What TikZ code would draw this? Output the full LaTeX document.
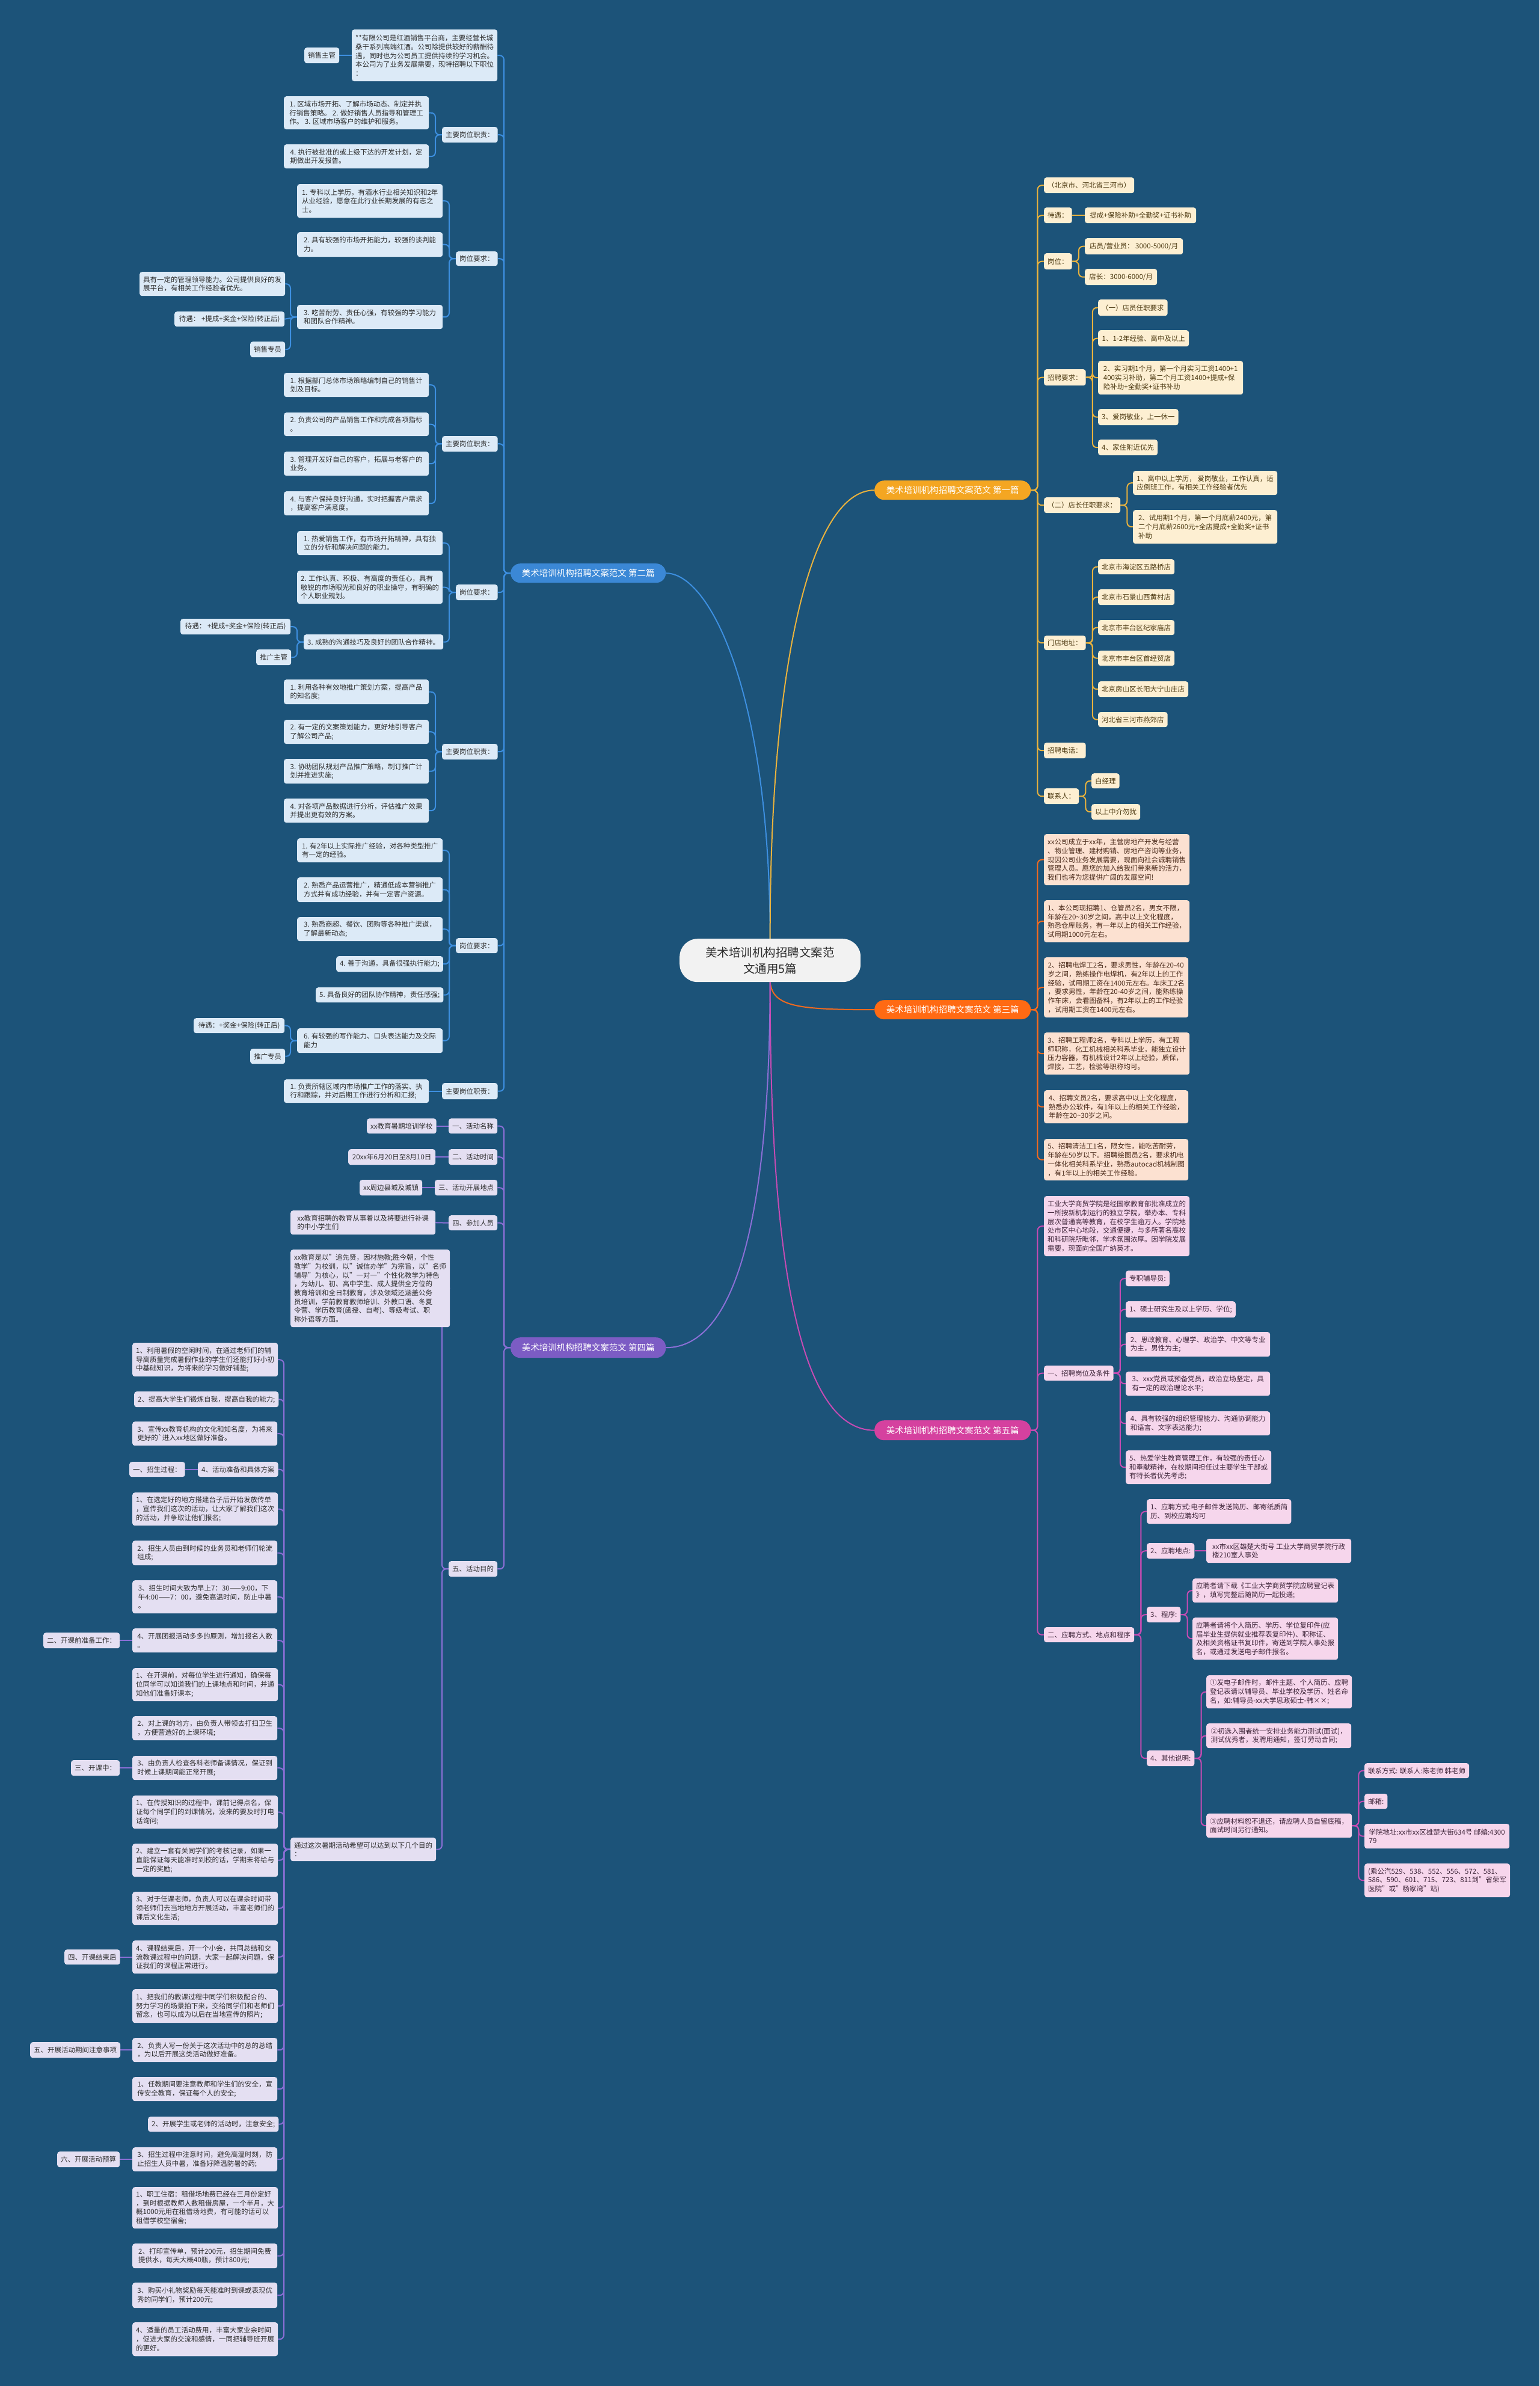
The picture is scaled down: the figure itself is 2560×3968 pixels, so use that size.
\documentclass[tikz,border=0pt]{standalone}
\usepackage{fontspec}
\setmainfont{Noto Sans CJK SC}
\pgfdeclarelayer{back}\pgfdeclarelayer{lines}
\pgfsetlayers{back,lines,main}
\definecolor{bgc}{HTML}{1C5379}
\definecolor{txt}{HTML}{2E2E2E}
\definecolor{bFill}{HTML}{DCEAF7}\definecolor{bLine}{HTML}{3D8FE0}\definecolor{bMain}{HTML}{3B88D6}
\definecolor{pFill}{HTML}{E4DFF2}\definecolor{pLine}{HTML}{8B6FD6}\definecolor{pMain}{HTML}{7C5CC4}
\definecolor{gFill}{HTML}{FDEFD2}\definecolor{gLine}{HTML}{E9B23D}\definecolor{gMain}{HTML}{F4A622}\definecolor{gTxt}{HTML}{4D3A12}
\definecolor{oFill}{HTML}{FCE1D1}\definecolor{oLine}{HTML}{F26A1F}\definecolor{oMain}{HTML}{FF6A13}\definecolor{oTxt}{HTML}{4A2A1A}
\definecolor{mFill}{HTML}{F6D6EC}\definecolor{mLine}{HTML}{C64BB3}\definecolor{mMain}{HTML}{D5419F}\definecolor{mTxt}{HTML}{3D2438}
\definecolor{ctrFill}{HTML}{F2F2F2}
\tikzset{
  leaf/.style={rounded corners=4pt, inner xsep=6pt, inner ysep=2pt, align=left, text=txt,
    font=\fontsize{11.5}{14.7}\selectfont},
  bL/.style={leaf, fill=bFill},
  pL/.style={leaf, fill=pFill},
  gL/.style={leaf, fill=gFill, text=gTxt},
  oL/.style={leaf, fill=oFill, text=oTxt},
  mL/.style={leaf, fill=mFill, text=mTxt},
  mainnode/.style={rounded corners=16pt, inner sep=0pt, align=center, text=white,
    font=\fontsize{14.5}{17}\selectfont},
  conn/.style={line width=2pt, rounded corners=7pt},
  lnB/.style={conn, draw=bLine}, lnP/.style={conn, draw=pLine}, lnG/.style={conn, draw=gLine},
  lnO/.style={conn, draw=oLine}, lnM/.style={conn, draw=mLine},
}
\newcommand\LB[7]{%
  \pgfmathsetmacro\myw{#5-#3}%
  \pgfmathsetmacro\myh{#6-#4}%
  \node[#2, anchor=north west, minimum width=\myw pt, minimum height=\myh pt] (#1) at (#3,#4) {#7};}
\newcommand\cL[3]{\draw[#1] (#2.west) -- ++(-11,0) |- (#3.east);}
\newcommand\cR[3]{\draw[#1] (#2.east) -- ++(11,0) |- (#3.west);}
\newcommand\sL[3]{\draw[#1] (#2.west) -- (#3.east);}
\newcommand\sR[3]{\draw[#1] (#2.east) -- (#3.west);}
\begin{document}
\begin{tikzpicture}[x=1pt,y=-1pt]
\begin{pgfonlayer}{back}
\fill[bgc] (0,0) rectangle (2560,3968);
\end{pgfonlayer}
\useasboundingbox (0,0) rectangle (2560,3968);
% ---------- center ----------
\node[rounded corners=30pt, fill=ctrFill, text=txt, align=center, minimum width=301pt, minimum height=72pt,
  font=\fontsize{19.5}{27}\selectfont, anchor=north west] (ctr) at (1130,1561) {美术培训机构招聘文案范\\文通用5篇};
% ---------- main nodes ----------
\LB{b0}{mainnode, fill=bMain}{849}{937}{1107}{969}{美术培训机构招聘文案范文 第二篇}
\LB{p0}{mainnode, fill=pMain}{849}{2224}{1107}{2258}{美术培训机构招聘文案范文 第四篇}
\LB{g0}{mainnode, fill=gMain}{1454}{799}{1714}{831}{美术培训机构招聘文案范文 第一篇}
\LB{o0}{mainnode, fill=oMain}{1454}{1663}{1714}{1695}{美术培训机构招聘文案范文 第三篇}
\LB{m0}{mainnode, fill=mMain}{1454}{2362}{1714}{2395}{美术培训机构招聘文案范文 第五篇}
% ---------- 第二篇 ----------
\LB{b1}{bL}{585}{49}{827}{135}{**有限公司是红酒销售平台商，主要经营长城\\桑干系列高端红酒。公司除提供较好的薪酬待\\遇，同时也为公司员工提供持续的学习机会。\\本公司为了业务发展需要，现特招聘以下职位\\：}
\LB{b1a}{bL}{506}{79}{563}{105}{销售主管}
\LB{b2}{bL}{735}{211}{826}{237}{主要岗位职责：}
\LB{b2a}{bL}{472}{160}{713}{215}{1. 区域市场开拓、了解市场动态、制定并执\\行销售策略。 2. 做好销售人员指导和管理工\\作。 3. 区域市场客户的维护和服务。}
\LB{b2b}{bL}{472}{240}{713}{280}{4. 执行被批准的或上级下达的开发计划，定\\期做出开发报告。}
\LB{b3}{bL}{758}{418}{826}{442}{岗位要求：}
\LB{b3a}{bL}{494}{306}{736}{362}{1. 专科以上学历，有酒水行业相关知识和2年\\从业经验，愿意在此行业长期发展的有志之\\士。}
\LB{b3b}{bL}{494}{386}{736}{427}{2. 具有较强的市场开拓能力，较强的谈判能\\力。}
\LB{b3c}{bL}{494}{507}{736}{547}{3. 吃苦耐劳、责任心强，有较强的学习能力\\和团队合作精神。}
\LB{b3c1}{bL}{232}{452}{473}{492}{具有一定的管理领导能力。公司提供良好的发\\展平台，有相关工作经验者优先。}
\LB{b3c2}{bL}{290}{518}{473}{543}{待遇： +提成+奖金+保险(转正后)}
\LB{b3c3}{bL}{416}{568}{473}{594}{销售专员}
\LB{b4}{bL}{735}{725}{826}{751}{主要岗位职责：}
\LB{b4a}{bL}{472}{620}{713}{660}{1. 根据部门总体市场策略编制自己的销售计\\划及目标。}
\LB{b4b}{bL}{472}{686}{713}{725}{2. 负责公司的产品销售工作和完成各项指标\\。}
\LB{b4c}{bL}{472}{751}{713}{791}{3. 管理开发好自己的客户，拓展与老客户的\\业务。}
\LB{b4d}{bL}{472}{817}{713}{857}{4. 与客户保持良好沟通，实时把握客户需求\\，提高客户满意度。}
\LB{b5}{bL}{758}{972}{826}{998}{岗位要求：}
\LB{b5a}{bL}{494}{883}{736}{923}{1. 热爱销售工作，有市场开拓精神，具有独\\立的分析和解决问题的能力。}
\LB{b5b}{bL}{494}{949}{736}{1004}{2. 工作认真、积极、有高度的责任心，具有\\敏锐的市场眼光和良好的职业操守，有明确的\\ 个人职业规划。}
\LB{b5c}{bL}{505}{1055}{736}{1080}{3. 成熟的沟通技巧及良好的团队合作精神。}
\LB{b5c1}{bL}{300}{1029}{483}{1055}{待遇： +提成+奖金+保险(转正后)}
\LB{b5c2}{bL}{426}{1080}{483}{1106}{推广主管}
\LB{b6}{bL}{735}{1237}{826}{1263}{主要岗位职责：}
\LB{b6a}{bL}{472}{1130}{713}{1171}{1. 利用各种有效地推广策划方案，提高产品\\的知名度;}
\LB{b6b}{bL}{472}{1197}{713}{1237}{2. 有一定的文案策划能力，更好地引导客户\\了解公司产品;}
\LB{b6c}{bL}{472}{1262}{713}{1303}{3. 协助团队规划产品推广策略，制订推广计\\划并推进实施;}
\LB{b6d}{bL}{472}{1328}{713}{1368}{4. 对各项产品数据进行分析，评估推广效果\\并提出更有效的方案。}
\LB{b7}{bL}{758}{1560}{826}{1585}{岗位要求：}
\LB{b7a}{bL}{494}{1394}{736}{1434}{1. 有2年以上实际推广经验，对各种类型推广\\有一定的经验。}
\LB{b7b}{bL}{494}{1459}{736}{1500}{2. 熟悉产品运营推广，精通低成本营销推广\\方式并有成功经验，并有一定客户资源。}
\LB{b7c}{bL}{494}{1525}{736}{1565}{3. 熟悉商超、餐饮、团购等各种推广渠道，\\了解最新动态;}
\LB{b7d}{bL}{559}{1590}{736}{1616}{4. 善于沟通，具备很强执行能力;}
\LB{b7e}{bL}{525}{1642}{736}{1667}{5. 具备良好的团队协作精神，责任感强;}
\LB{b7f}{bL}{494}{1710}{736}{1751}{6. 有较强的写作能力、口头表达能力及交际\\能力}
\LB{b7f1}{bL}{322}{1693}{473}{1718}{待遇：+奖金+保险(转正后)}
\LB{b7f2}{bL}{416}{1744}{473}{1769}{推广专员}
\LB{b8}{bL}{735}{1801}{826}{1828}{主要岗位职责：}
\LB{b8a}{bL}{472}{1795}{713}{1834}{1. 负责所辖区域内市场推广工作的落实、执\\行和跟踪，并对后期工作进行分析和汇报;}
% ---------- 第四篇 ----------
\LB{p1}{pL}{746}{1860}{826}{1885}{一、活动名称}
\LB{p1a}{pL}{610}{1860}{724}{1885}{xx教育暑期培训学校}
\LB{p2}{pL}{746}{1911}{826}{1937}{二、活动时间}
\LB{p2a}{pL}{579}{1911}{724}{1937}{20xx年6月20日至8月10日}
\LB{p3}{pL}{723}{1962}{826}{1988}{三、活动开展地点}
\LB{p3a}{pL}{598}{1962}{702}{1988}{xx周边县城及城镇}
\LB{p4}{pL}{746}{2021}{826}{2046}{四、参加人员}
\LB{p4a}{pL}{483}{2013}{724}{2053}{xx教育招聘的教育从事着以及将要进行补课\\的中小学生们}
\LB{p5}{pL}{746}{2596}{826}{2622}{五、活动目的}
\LB{p5a}{pL}{483}{2078}{724}{2207}{xx教育是以"追先贤，因材施教;胜今朝，个性\\教学"为校训，以"诚信办学"为宗旨，以"名师\\辅导"为核心，以"一对一"个性化教学为特色\\，为幼儿、初、高中学生、成人提供全方位的\\教育培训和全日制教育，涉及领域还涵盖公务\\员培训，学前教育教师培训、外教口语、冬夏\\令营、学历教育(函授、自考)、等级考试、职\\称外语等方面。}
\LB{p5b}{pL}{483}{3056}{724}{3095}{通过这次暑期活动希望可以达到以下几个目的\\：}
\LB{q1}{pL}{220}{2233}{461}{2289}{1、利用暑假的空闲时间，在通过老师们的辅\\导高质量完成暑假作业的学生们还能打好小初\\中基础知识，为将来的学习做好铺垫;}
\LB{q2}{pL}{223}{2314}{461}{2340}{2、提高大学生们锻炼自我，提高自我的能力;}
\LB{q3}{pL}{220}{2364}{461}{2404}{3、宣传xx教育机构的文化和知名度，为将来\\更好的\textasciigrave 进入xx地区做好准备。}
\LB{q4}{pL}{329}{2431}{461}{2456}{4、活动准备和具体方案}
\LB{q4a}{pL}{215}{2431}{307}{2456}{一、招生过程：}
\LB{q5}{pL}{220}{2482}{461}{2537}{1、在选定好的地方搭建台子后开始发放传单\\，宣传我们这次的活动，让大家了解我们这次\\的活动，并争取让他们报名;}
\LB{q6}{pL}{220}{2562}{461}{2603}{2、招生人员由到时候的业务员和老师们轮流\\组成;}
\LB{q7}{pL}{220}{2628}{461}{2683}{3、招生时间大致为早上7：30——9:00，下\\午4:00——7：00，避免高温时间，防止中暑\\。}
\LB{q8}{pL}{220}{2708}{461}{2748}{4、开展团报活动多多的原则，增加报名人数\\。}
\LB{q8a}{pL}{72}{2715}{198}{2741}{二、开课前准备工作：}
\LB{q9}{pL}{220}{2774}{461}{2829}{1、在开课前，对每位学生进行通知，确保每\\位同学可以知道我们的上课地点和时间，并通\\知他们准备好课本;}
\LB{q10}{pL}{220}{2854}{461}{2894}{2、对上课的地方，由负责人带领去打扫卫生\\，方便营造好的上课环境;}
\LB{q11}{pL}{220}{2920}{461}{2960}{3、由负责人检查各科老师备课情况，保证到\\时候上课期间能正常开展;}
\LB{q11a}{pL}{118}{2927}{198}{2953}{三、开课中：}
\LB{q12}{pL}{220}{2986}{461}{3041}{1、在传授知识的过程中，课前记得点名，保\\证每个同学们的到课情况，没来的要及时打电\\话询问;}
\LB{q13}{pL}{220}{3066}{461}{3121}{2、建立一套有关同学们的考核记录，如果一\\直能保证每天能准时到校的话，学期末将给与\\一定的奖励;}
\LB{q14}{pL}{220}{3146}{461}{3201}{3、对于任课老师，负责人可以在课余时间带\\领老师们去当地地方开展活动，丰富老师们的\\课后文化生活;}
\LB{q15}{pL}{220}{3227}{461}{3282}{4、课程结束后，开一个小会，共同总结和交\\流教课过程中的问题，大家一起解决问题，保\\证我们的课程正常进行。}
\LB{q15a}{pL}{107}{3242}{198}{3267}{四、开课结束后}
\LB{q16}{pL}{220}{3308}{461}{3364}{1、把我们的教课过程中同学们积极配合的、\\努力学习的场景拍下来，交给同学们和老师们\\留念，也可以成为以后在当地宣传的照片;}
\LB{q17}{pL}{220}{3389}{461}{3429}{2、负责人写一份关于这次活动中的总的总结\\，为以后开展这类活动做好准备。}
\LB{q17a}{pL}{50}{3396}{198}{3422}{五、开展活动期间注意事项}
\LB{q18}{pL}{220}{3454}{461}{3494}{1、任教期间要注意教师和学生们的安全，宣\\传安全教育，保证每个人的安全;}
\LB{q19}{pL}{246}{3520}{461}{3545}{2、开展学生或老师的活动时，注意安全;}
\LB{q20}{pL}{220}{3571}{461}{3611}{3、招生过程中注意时间，避免高温时刻，防\\止招生人员中暑，准备好降温防暑的药;}
\LB{q20a}{pL}{95}{3578}{198}{3604}{六、开展活动预算}
\LB{q21}{pL}{220}{3637}{461}{3706}{1、职工住宿：租借场地费已经在三月份定好\\，到时根据教师人数租借房屋，一个半月，大\\概1000元用在租借场地费，有可能的话可以\\租借学校空宿舍;}
\LB{q22}{pL}{220}{3731}{461}{3772}{2、打印宣传单，预计200元，招生期间免费\\提供水，每天大概40瓶，预计800元;}
\LB{q23}{pL}{220}{3796}{461}{3838}{3、购买小礼物奖励每天能准时到课或表现优\\秀的同学们，预计200元;}
\LB{q24}{pL}{220}{3862}{461}{3918}{4、适量的员工活动费用，丰富大家业余时间\\，促进大家的交流和感情，一同把辅导班开展\\的更好。}
% ---------- 第一篇 ----------
\LB{g1}{gL}{1736}{295}{1885}{321}{（北京市、河北省三河市）}
\LB{g2}{gL}{1736}{345}{1782}{371}{待遇：}
\LB{g2a}{gL}{1804}{345}{1989}{371}{提成+保险补助+全勤奖+证书补助}
\LB{g3}{gL}{1736}{421}{1782}{448}{岗位：}
\LB{g3a}{gL}{1804}{396}{1967}{423}{店员/营业员： 3000-5000/月}
\LB{g3b}{gL}{1804}{447}{1924}{474}{店长：3000-6000/月}
\LB{g4}{gL}{1736}{614}{1805}{641}{招聘要求：}
\LB{g4a}{gL}{1826}{498}{1941}{525}{（一）店员任职要求}
\LB{g4b}{gL}{1826}{549}{1977}{576}{1、1-2年经验、高中及以上}
\LB{g4c}{gL}{1826}{600}{2067}{656}{2、实习期1个月，第一个月实习工资1400+1\\400实习补助，第二个月工资1400+提成+保\\险补助+全勤奖+证书补助}
\LB{g4d}{gL}{1826}{680}{1959}{707}{3、爱岗敬业，上一休一}
\LB{g4e}{gL}{1826}{731}{1924}{757}{4、家住附近优先}
\LB{g5}{gL}{1736}{827}{1862}{853}{（二）店长任职要求：}
\LB{g5a}{gL}{1884}{783}{2124}{823}{1、高中以上学历， 爱岗敬业，工作认真，适\\应倒班工作，有相关工作经验者优先}
\LB{g5b}{gL}{1884}{848}{2124}{904}{2、试用期1个月，第一个月底薪2400元，第\\二个月底薪2600元+全店提成+全勤奖+证书\\补助}
\LB{g6}{gL}{1736}{1057}{1805}{1081}{门店地址：}
\LB{g6a}{gL}{1826}{930}{1952}{955}{北京市海淀区五路桥店}
\LB{g6b}{gL}{1826}{980}{1952}{1006}{北京市石景山西黄村店}
\LB{g6c}{gL}{1826}{1031}{1952}{1056}{北京市丰台区纪家庙店}
\LB{g6d}{gL}{1826}{1082}{1952}{1107}{北京市丰台区首经贸店}
\LB{g6e}{gL}{1826}{1133}{1975}{1159}{北京房山区长阳大宁山庄店}
\LB{g6f}{gL}{1826}{1184}{1941}{1209}{河北省三河市燕郊店}
\LB{g7}{gL}{1736}{1235}{1805}{1261}{招聘电话：}
\LB{g8}{gL}{1736}{1311}{1793}{1337}{联系人：}
\LB{g8a}{gL}{1815}{1286}{1860}{1311}{白经理}
\LB{g8b}{gL}{1815}{1337}{1894}{1363}{以上中介勿扰}
% ---------- 第三篇 ----------
\LB{o1}{oL}{1736}{1387}{1976}{1472}{xx公司成立于xx年，主营房地产开发与经营\\、物业管理、建材购销、房地产咨询等业务，\\现因公司业务发展需要，现面向社会诚聘销售\\管理人员。愿您的加入给我们带来新的活力，\\我们也将为您提供广阔的发展空间!}
\LB{o2}{oL}{1736}{1497}{1976}{1567}{1、本公司现招聘1、仓管员2名，男女不限，\\年龄在20\textasciitilde 30岁之间，高中以上文化程度，\\熟悉仓库账务，有一年以上的相关工作经验，\\试用期1000元左右。}
\LB{o3}{oL}{1736}{1592}{1976}{1692}{2、招聘电焊工2名，要求男性，年龄在20-40\\岁之间，熟练操作电焊机，有2年以上的工作\\经验，试用期工资在1400元左右。车床工2名\\，要求男性，年龄在20-40岁之间，能熟练操\\作车床，会看图备料，有2年以上的工作经验\\，试用期工资在1400元左右。}
\LB{o4}{oL}{1736}{1717}{1976}{1787}{3、招聘工程师2名，专科以上学历，有工程\\师职称，化工机械相关科系毕业，能独立设计\\压力容器，有机械设计2年以上经验，质保，\\焊接，工艺，检验等职称均可。}
\LB{o5}{oL}{1736}{1813}{1976}{1868}{4、招聘文员2名，要求高中以上文化程度，\\熟悉办公软件，有1年以上的相关工作经验，\\年龄在20\textasciitilde 30岁之间。}
\LB{o6}{oL}{1736}{1894}{1976}{1963}{5、招聘清洁工1名，限女性，能吃苦耐劳，\\年龄在50岁以下。招聘绘图员2名，要求机电\\一体化相关科系毕业，熟悉autocad机械制图\\，有1年以上的相关工作经验。}
% ---------- 第五篇 ----------
\LB{m1}{mL}{1736}{1989}{1976}{2089}{工业大学商贸学院是经国家教育部批准成立的\\一所按新机制运行的独立学院，举办本、专科\\层次普通高等教育，在校学生逾万人。学院地\\处市区中心地段，交通便捷，与多所著名高校\\和科研院所毗邻，学术氛围浓厚。因学院发展\\需要，现面向全国广纳英才。}
\LB{m2}{mL}{1736}{2271}{1850}{2296}{一、招聘岗位及条件}
\LB{m2a}{mL}{1872}{2113}{1943}{2139}{专职辅导员:}
\LB{m2b}{mL}{1872}{2164}{2054}{2191}{1、硕士研究生及以上学历、学位;}
\LB{m2c}{mL}{1872}{2215}{2112}{2256}{2、思政教育、心理学、政治学、中文等专业\\为主，男性为主;}
\LB{m2d}{mL}{1872}{2281}{2112}{2321}{3、xxx党员或预备党员，政治立场坚定，具\\有一定的政治理论水平;}
\LB{m2e}{mL}{1872}{2347}{2112}{2387}{4、具有较强的组织管理能力、沟通协调能力\\和语言、文字表达能力;}
\LB{m2f}{mL}{1872}{2412}{2112}{2468}{5、热爱学生教育管理工作，有较强的责任心\\和奉献精神，在校期间担任过主要学生干部或\\有特长者优先考虑;}
\LB{m3}{mL}{1736}{2706}{1885}{2731}{二、应聘方式、地点和程序}
\LB{m3a}{mL}{1907}{2493}{2147}{2534}{1、应聘方式:电子邮件发送简历、邮寄纸质简\\历、到校应聘均可}
\LB{m3b}{mL}{1907}{2566}{1985}{2592}{2、应聘地点:}
\LB{m3b1}{mL}{2006}{2559}{2247}{2599}{xx市xx区雄楚大街号 工业大学商贸学院行政\\楼210室人事处}
\LB{m3c}{mL}{1907}{2672}{1962}{2698}{3、程序:}
\LB{m3c1}{mL}{1983}{2625}{2225}{2665}{应聘者请下载《工业大学商贸学院应聘登记表\\》，填写完整后随简历一起投递;}
\LB{m3c2}{mL}{1983}{2690}{2225}{2760}{应聘者请将个人简历、学历、学位复印件(应\\届毕业生提供就业推荐表复印件)、职称证、\\及相关资格证书复印件，寄送到学院人事处报\\名，或通过发送电子邮件报名。}
\LB{m3d}{mL}{1907}{2911}{1985}{2937}{4、其他说明:}
\LB{m3d1}{mL}{2006}{2786}{2247}{2841}{①发电子邮件时，邮件主题、个人简历、应聘\\登记表请以辅导员、毕业学校及学历、姓名命\\名，如:辅导员-xx大学思政硕士-韩××;}
\LB{m3d2}{mL}{2006}{2866}{2247}{2907}{②初选入围者统一安排业务能力测试(面试)，\\测试优秀者，发聘用通知，签订劳动合同;}
\LB{m3d3}{mL}{2006}{3016}{2247}{3056}{③应聘材料恕不退还，请应聘人员自留底稿，\\面试时间另行通知。}
\LB{m3d3a}{mL}{2269}{2932}{2442}{2957}{联系方式: 联系人:陈老师 韩老师}
\LB{m3d3b}{mL}{2269}{2983}{2306}{3008}{邮箱:}
\LB{m3d3c}{mL}{2269}{3033}{2510}{3074}{学院地址:xx市xx区雄楚大街634号 邮编:4300\\79}
\LB{m3d3d}{mL}{2269}{3099}{2510}{3155}{(乘公汽529、538、552、556、572、581、\\586、590、601、715、723、811到"省荣军\\医院"或"杨家湾"站)}
% ---------- connectors ----------
\begin{pgfonlayer}{lines}
\draw[line width=2pt, bLine] (ctr.north) .. controls (1280,1150) and (1180,953) .. (b0.east);
\draw[line width=2pt, gLine] (ctr.north) .. controls (1280,1100) and (1350,815) .. (g0.west);
\draw[line width=2pt, oLine] (ctr.south) .. controls (1285,1675) and (1330,1679) .. (o0.west);
\draw[line width=2pt, pLine] (ctr.south) .. controls (1280,2000) and (1230,2241) .. (p0.east);
\draw[line width=2pt, mLine] (ctr.south) .. controls (1280,2100) and (1330,2378) .. (m0.west);
% 第二篇
\foreach \c in {b1,b2,b3,b4,b5,b6,b7,b8} {\cL{lnB}{b0}{\c}}
\sL{lnB}{b1}{b1a}
\foreach \c in {b2a,b2b} {\cL{lnB}{b2}{\c}}
\foreach \c in {b3a,b3b,b3c} {\cL{lnB}{b3}{\c}}
\cL{lnB}{b3c}{b3c1}\sL{lnB}{b3c}{b3c2}\cL{lnB}{b3c}{b3c3}
\foreach \c in {b4a,b4b,b4c,b4d} {\cL{lnB}{b4}{\c}}
\foreach \c in {b5a,b5b,b5c} {\cL{lnB}{b5}{\c}}
\foreach \c in {b5c1,b5c2} {\cL{lnB}{b5c}{\c}}
\foreach \c in {b6a,b6b,b6c,b6d} {\cL{lnB}{b6}{\c}}
\foreach \c in {b7a,b7b,b7c,b7d,b7e,b7f} {\cL{lnB}{b7}{\c}}
\foreach \c in {b7f1,b7f2} {\cL{lnB}{b7f}{\c}}
\sL{lnB}{b8}{b8a}
% 第四篇
\foreach \c in {p1,p2,p3,p4,p5} {\cL{lnP}{p0}{\c}}
\sL{lnP}{p1}{p1a}\sL{lnP}{p2}{p2a}\sL{lnP}{p3}{p3a}\sL{lnP}{p4}{p4a}
\foreach \c in {p5a,p5b} {\cL{lnP}{p5}{\c}}
\foreach \c in {q1,q2,q3,q4,q5,q6,q7,q8,q9,q10,q11,q12,q13,q14,q15,q16,q17,q18,q19,q20,q21,q22,q23,q24} {\cL{lnP}{p5b}{\c}}
\sL{lnP}{q4}{q4a}\sL{lnP}{q8}{q8a}\sL{lnP}{q11}{q11a}\sL{lnP}{q15}{q15a}\sL{lnP}{q17}{q17a}\sL{lnP}{q20}{q20a}
% 第一篇
\foreach \c in {g1,g2,g3,g4,g5,g6,g7,g8} {\cR{lnG}{g0}{\c}}
\sR{lnG}{g2}{g2a}
\foreach \c in {g3a,g3b} {\cR{lnG}{g3}{\c}}
\foreach \c in {g4a,g4b,g4c,g4d,g4e} {\cR{lnG}{g4}{\c}}
\foreach \c in {g5a,g5b} {\cR{lnG}{g5}{\c}}
\foreach \c in {g6a,g6b,g6c,g6d,g6e,g6f} {\cR{lnG}{g6}{\c}}
\foreach \c in {g8a,g8b} {\cR{lnG}{g8}{\c}}
% 第三篇
\foreach \c in {o1,o2,o3,o4,o5,o6} {\cR{lnO}{o0}{\c}}
% 第五篇
\foreach \c in {m1,m2,m3} {\cR{lnM}{m0}{\c}}
\foreach \c in {m2a,m2b,m2c,m2d,m2e,m2f} {\cR{lnM}{m2}{\c}}
\foreach \c in {m3a,m3b,m3c,m3d} {\cR{lnM}{m3}{\c}}
\sR{lnM}{m3b}{m3b1}
\foreach \c in {m3c1,m3c2} {\cR{lnM}{m3c}{\c}}
\foreach \c in {m3d1,m3d2,m3d3} {\cR{lnM}{m3d}{\c}}
\foreach \c in {m3d3a,m3d3b,m3d3c,m3d3d} {\cR{lnM}{m3d3}{\c}}
\end{pgfonlayer}
\end{tikzpicture}
\end{document}
